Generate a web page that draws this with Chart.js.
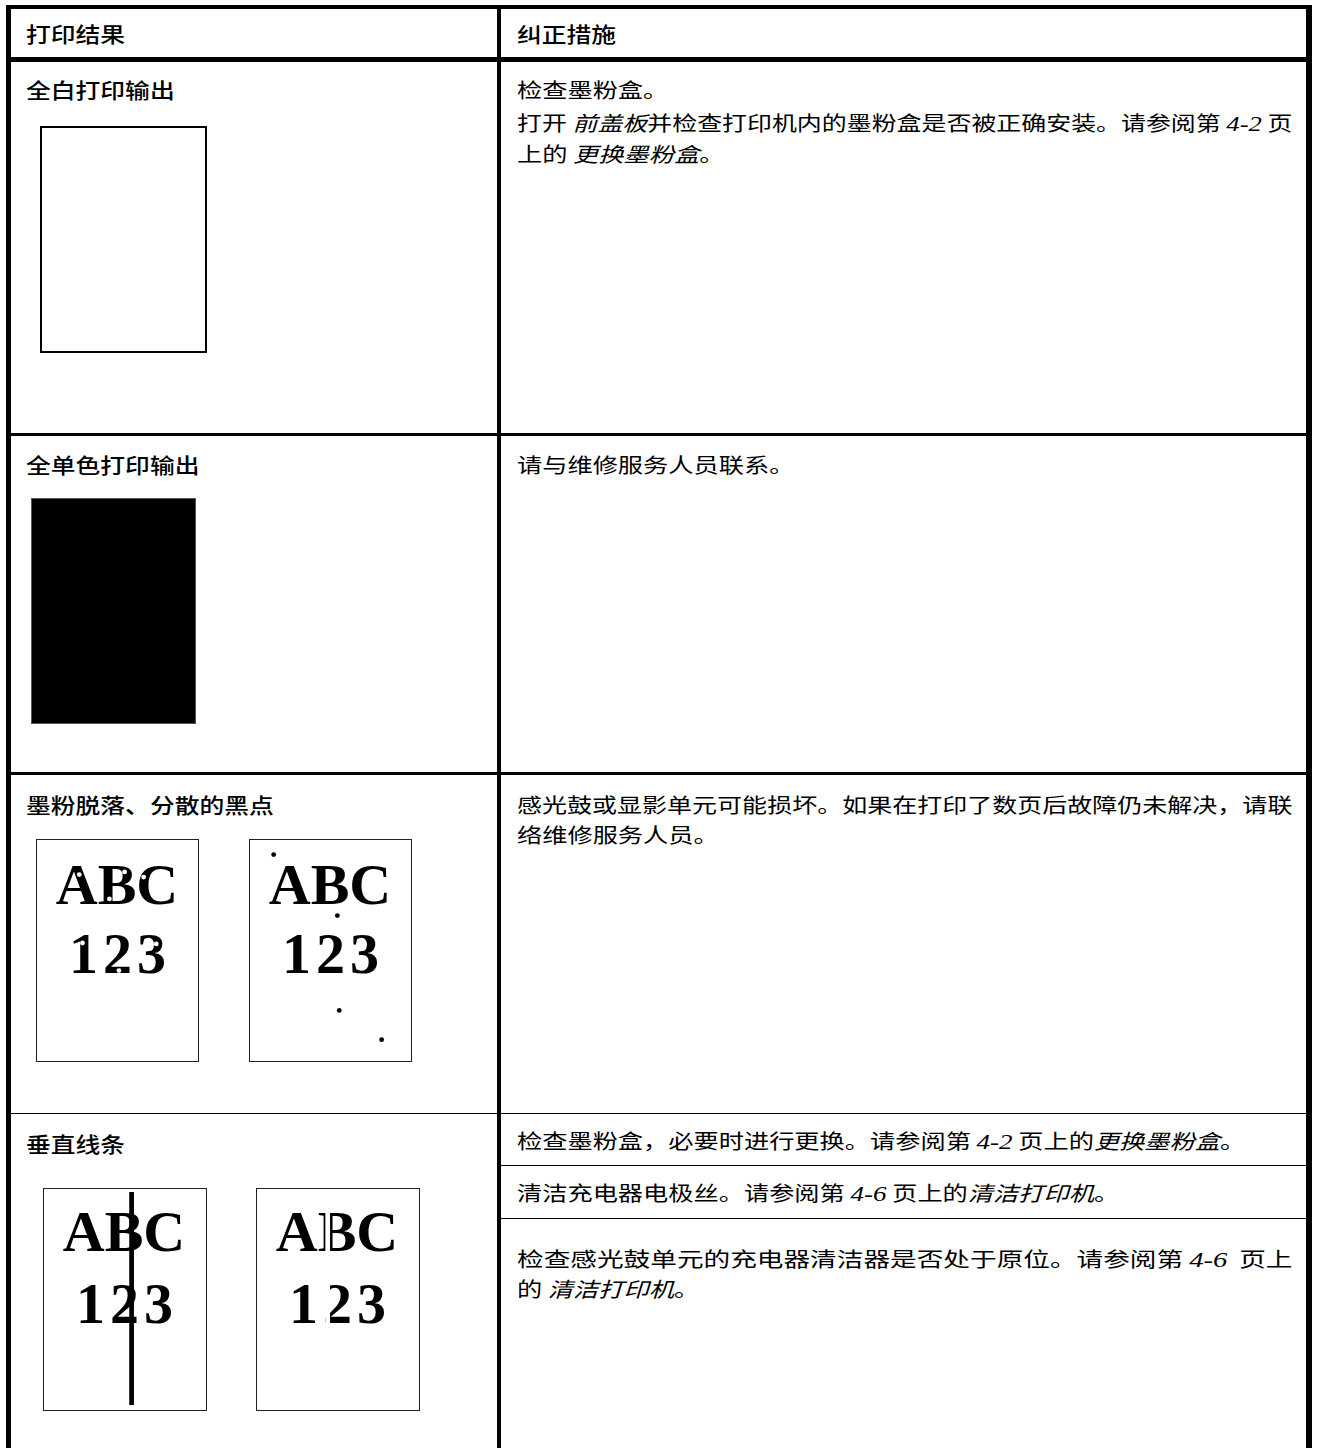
<!DOCTYPE html>
<html lang="zh-CN">
<head>
<meta charset="utf-8">
<title>打印结果与纠正措施</title>
<script src="https://cdn.jsdelivr.net/npm/chart.js@4.4.1/dist/chart.umd.min.js"></script>
<style>
html, body { margin: 0; padding: 0; background: #fff; }
#sheet { position: relative; width: 1320px; height: 1448px; overflow: hidden;
  font-family: "Noto Sans CJK SC", "Noto Sans", sans-serif; color: #000; }
.rule { position: absolute; background: #000; }
.txt { position: absolute; height: 30px; line-height: 30px; white-space: pre; transform-origin: 0 50%; }
.lbl { font-size: 21px; font-weight: 500; transform: scaleX(1.18); }
.fix { font-size: 20.5px; transform: scaleX(1.23); }
.txt i { font-style: italic; }
.txt i.num { font-family: "Liberation Serif", serif; font-size: 22px; }
.page { position: absolute; box-sizing: border-box; border: 1.5px solid #222; }
.page canvas { display: block; }
</style>
</head>
<body>
<div id="sheet"></div>
<script>
// table text
const headers = ['打印结果', '纠正措施'];
const problems = ['全白打印输出', '全单色打印输出', '墨粉脱落、分散的黑点', '垂直线条'];
// per table row: paragraphs, each paragraph = its printed lines (*...* = italic)
const remedies = [
    [['检查墨粉盒。'], ['打开 *前盖板*并检查打印机内的墨粉盒是否被正确安装。请参阅第 *4-2* 页', '上的 *更换墨粉盒*。']],
    [['请与维修服务人员联系。']],
    [['感光鼓或显影单元可能损坏。如果在打印了数页后故障仍未解决，请联', '络维修服务人员。']],
    [['检查墨粉盒，必要时进行更换。请参阅第 *4-2* 页上的*更换墨粉盒*。'], ['清洁充电器电极丝。请参阅第 *4-6* 页上的*清洁打印机*。'], ['检查感光鼓单元的充电器清洁器是否处于原位。请参阅第 *4-6*  页上', '的 *清洁打印机*。']]
];

// sample page marks, in page units (px from the page's top-left corner)
const sampleText = ['ABC', '123'];
const dropoutX = [41.3, 89, 73, 109, 44.7, 83, 122.3];
const dropoutY = [32.7, 30, 58, 35.3, 103.7, 132.3, 104.7];
const speckX = [21.7, 88.7, 90.7, 135.3];
const speckY = [12, 75.3, 173.7, 204];
const streakX = [88.6];
const gapX = [71.7];
const stripeY = [4, 217];

// layout of the sheet
const rules = [
    [6, 5, 1306, 4], [6, 5, 5, 1443], [1306, 5, 6, 1443], [497, 5, 4, 1443],
    [6, 57, 1306, 5], [6, 433, 1306, 3], [6, 772, 1306, 3], [6, 1112.5, 1306, 1.5],
    [501, 1164.5, 805, 1.3], [501, 1217.5, 805, 1.3]
];
const headerY = 33;
const titleY = [89, 464, 804, 1143];
const remedyY = [[[89], [121.7, 153]], [[464]], [[804, 834]], [[1139.5], [1191.5], [1258, 1288]]];
const textLeft = [26, 517];
const justifyWidth = 776;   // wrapped lines run to the right margin

const sheet = document.getElementById('sheet');

rules.forEach(function (r) {
    let d = document.createElement('div');
    d.className = 'rule';
    d.style.cssText = `left:${r[0]}px;top:${r[1]}px;width:${r[2]}px;height:${r[3]}px`;
    sheet.appendChild(d);
});

function richLine(s) {
    return s.split('*').map(function (seg, i) {
        if (i % 2 === 0) return seg;
        let cls = /^[0-9-]+$/.test(seg) ? ' class="num"' : '';
        return `<i${cls}>${seg}</i>`;
    }).join('');
}

function addText(html, x, cy, cls) {
    let d = document.createElement('div');
    d.className = 'txt ' + cls;
    d.style.left = x + 'px';
    d.style.top = (cy - 15) + 'px';
    d.innerHTML = html;
    sheet.appendChild(d);
    return d;
}

addText(headers[0], textLeft[0], headerY, 'lbl');
addText(headers[1], textLeft[1], headerY, 'lbl');
problems.forEach(function (p, i) {
    addText(p, textLeft[0], titleY[i], 'lbl');
});
remedies.forEach(function (paras, i) {
    paras.forEach(function (lines, j) {
        lines.forEach(function (line, k) {
            let d = addText(richLine(line), textLeft[1], remedyY[i][j][k], 'fix');
            if (k < lines.length - 1) {
                // not the paragraph's last line: stretch it out to the margin
                d.style.transform = `scaleX(${justifyWidth / d.offsetWidth})`;
            }
        });
    });
});

// paper fill + ABC/123 print drawn under the marks
const pagePlugin = {
    id: 'pagePrint',
    beforeDraw(chart, args, opts) {
        const a = chart.chartArea, ctx = chart.ctx;
        ctx.save();
        ctx.fillStyle = opts.paper || '#fff';
        ctx.fillRect(a.left, a.top, a.right - a.left, a.bottom - a.top);
        ctx.restore();
    },
    beforeDatasetsDraw(chart, args, opts) {
        if (!opts.print) return;
        const ctx = chart.ctx, sx = chart.scales.x, sy = chart.scales.y;
        ctx.save();
        ctx.fillStyle = '#000';
        ctx.textAlign = 'center';
        ctx.textBaseline = 'alphabetic';
        ctx.font = 'bold 58px "Liberation Serif", serif';
        ctx.letterSpacing = '0px';
        ctx.fillText(sampleText[0], sx.getPixelForValue(81), sy.getPixelForValue(63));
        ctx.letterSpacing = '5px';
        ctx.fillText(sampleText[1], sx.getPixelForValue(84), sy.getPixelForValue(135));
        ctx.restore();
    }
};

function dots(xs, ys, color) {
    return {
        data: xs.map((x, i) => ({ x: x, y: ys[i] })),
        pointRadius: 2.4, pointBackgroundColor: color, pointBorderWidth: 0
    };
}

function stripe(x, color) {
    return {
        type: 'line', showLine: true,
        data: stripeY.map(y => ({ x: x, y: y })),
        borderColor: color, borderWidth: 4.7, pointRadius: 0, borderCapStyle: 'butt'
    };
}

const pages = [
    { x: 39.5, y: 126, w: 167, h: 227, border: '2px solid #000', paper: '#fff', print: false, datasets: [] },
    { x: 31.3, y: 498, w: 165, h: 226, border: '1px solid #555', paper: '#000', print: false, datasets: [] },
    { x: 36, y: 839, w: 163, h: 223, print: true, datasets: [dots(dropoutX, dropoutY, '#fff')] },
    { x: 249, y: 839, w: 163, h: 223, print: true, datasets: [dots(speckX, speckY, '#000')] },
    { x: 42.7, y: 1188, w: 164, h: 223, print: true, datasets: [stripe(streakX[0], '#000')] },
    { x: 256.3, y: 1188, w: 164, h: 223, print: true, datasets: [stripe(gapX[0], '#fff')] }
];

pages.forEach(function (pg) {
    let box = document.createElement('div');
    box.className = 'page';
    box.style.cssText = `left:${pg.x}px;top:${pg.y}px;width:${pg.w}px;height:${pg.h}px`;
    if (pg.border) box.style.border = pg.border;
    sheet.appendChild(box);
    let b = parseFloat(getComputedStyle(box).borderLeftWidth);
    let cv = document.createElement('canvas');
    cv.width = Math.round(pg.w - 2 * b);
    cv.height = Math.round(pg.h - 2 * b);
    box.appendChild(cv);

    new Chart(cv.getContext('2d'), {
        type: 'scatter',
        data: { datasets: pg.datasets },
        options: {
            responsive: false,
            animation: false,
            events: [],
            layout: { padding: 0 },
            scales: {
                x: { type: 'linear', min: b, max: pg.w - b, display: false },
                y: { type: 'linear', min: b, max: pg.h - b, reverse: true, display: false }
            },
            plugins: {
                legend: { display: false },
                tooltip: { enabled: false },
                pagePrint: { paper: pg.paper || '#fff', print: pg.print }
            }
        },
        plugins: [pagePlugin]
    });
});
</script>
</body>
</html>
